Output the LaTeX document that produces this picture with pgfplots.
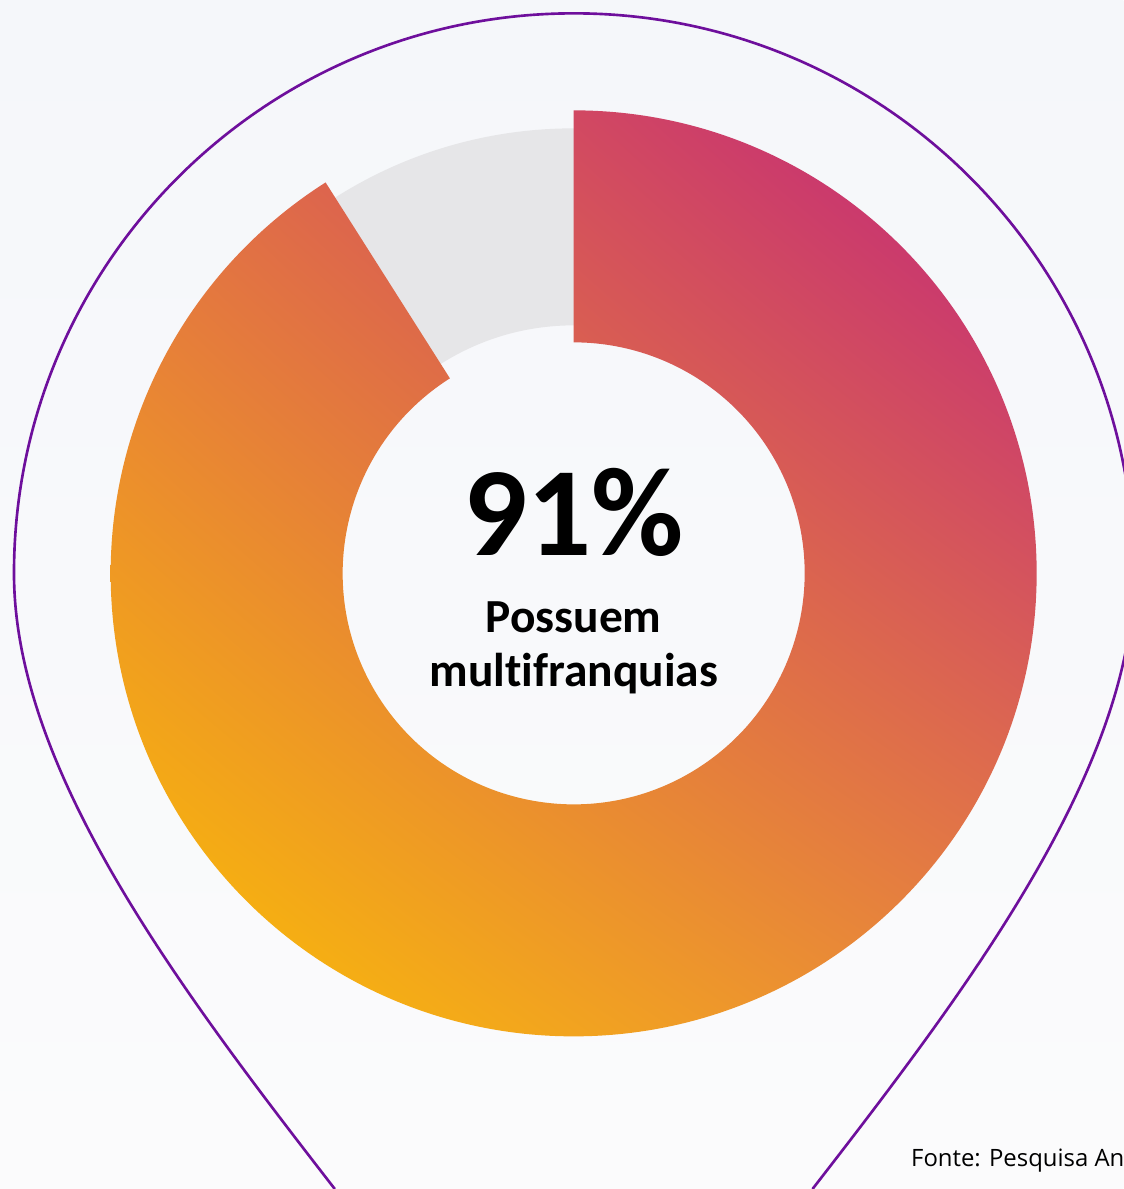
\documentclass[border=0pt]{standalone}
\usepackage{pgfplots}
\usepackage{pgfplotstable}
\pgfplotsset{compat=1.18}
\usetikzlibrary{calc,shadings}
\usepackage{fontspec}
\setmainfont{Carlito}[Ligatures=NoCommon]
\newfontfamily\fontefont{Open Sans}

\definecolor{bgtop}{HTML}{F5F7FA}
\definecolor{bgbot}{HTML}{FBFBFC}
\definecolor{ringgray}{HTML}{E6E6E8}
\definecolor{pinpurple}{HTML}{6E0F9C}
\definecolor{gLL}{HTML}{FCC300}
\definecolor{gUR}{HTML}{C0207E}
\definecolor{gUL}{HTML}{E27046}
\definecolor{gLR}{HTML}{E8853E}

% share of respondents
\pgfplotstableread{
label value
sim 91
nao 9
}\sharetable
\pgfplotstablegetelem{0}{value}\of\sharetable
\let\vsim\pgfplotsretval

\begin{document}
\begin{tikzpicture}
\useasboundingbox (0,0) rectangle (11.24cm,11.89cm);
\begin{axis}[
    at={(0,0)}, anchor=south west,
    x=0.01cm, y=0.01cm,
    xmin=0, xmax=1124, ymin=0, ymax=1189,
    hide axis, clip=false]
  \pgfmathsetmacro\angend{90-3.6*\vsim}
  \shade[top color=bgtop, bottom color=bgbot]
      (axis cs:0,0) rectangle (axis cs:1124,1189);
  \coordinate (c) at (axis cs:574,616);
  % remainder ring
  \fill[ringgray, even odd rule]
      (c) circle[radius=4.45cm] (c) circle[radius=2.48cm];
  % share arc
  \shade[shading=bilinear interpolation,
         lower left=gLL, upper right=gUR, upper left=gUL, lower right=gLR]
      ($(c)+(90:4.63cm)$) arc[start angle=90, end angle=\angend, radius=4.63cm]
      -- ($(c)+(\angend:2.31cm)$)
      arc[start angle=\angend, end angle=90, radius=2.31cm] -- cycle;
  % pin outline
  \draw[pinpurple, line width=0.75pt]
      (axis cs:335,0) .. controls (axis cs:180,200) and (axis cs:14,419)
      .. (axis cs:14,616) arc[start angle=180, end angle=0, radius=5.6cm]
      .. controls (axis cs:1134,419) and (axis cs:968,200) .. (axis cs:813,0);
  % labels
  \node[anchor=base, inner sep=0pt] at (axis cs:574,634)
      {\fontsize{36}{36}\selectfont\bfseries \vsim\%};
  \node[anchor=base, inner sep=0pt, align=center,
        font=\fontsize{13.5}{15.4}\selectfont\bfseries] at (axis cs:574,503)
      {Possuem\\multifranquias};
  \node[anchor=base west, inner sep=0pt, font=\fontefont\fontsize{6.8}{8}\selectfont]
      at (axis cs:911,23) {Fonte: Pesquisa Anual};
\end{axis}
\end{tikzpicture}
\end{document}
